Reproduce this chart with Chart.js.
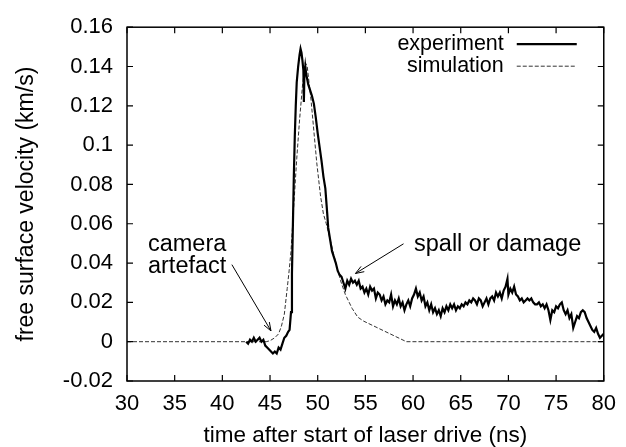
<!DOCTYPE html>
<html>
<head>
<meta charset="utf-8">
<script src="https://cdn.jsdelivr.net/npm/chart.js@4"></script>
<style>
  html, body { margin: 0; padding: 0; background: #fff; }
</style>
</head>
<body>
<canvas id="chartVitesse" width="626" height="447"></canvas>
<script>
// experiment (ns, km/s)
const tempsExp = [
  42.5, 42.7, 42.9, 43.1, 43.3, 43.5, 43.7, 43.9, 44.1, 44.3, 44.5, 44.7, 44.9, 45.1, 45.3, 45.5, 45.7, 45.9,
  46.1, 46.3, 46.5, 46.7, 46.9, 47.05, 47.2, 47.3, 47.4, 47.5, 47.6, 47.7, 47.8, 47.95, 48.1, 48.2, 48.3, 48.4,
  48.5, 48.55, 48.6, 48.7, 48.8, 49.0, 49.2, 49.4, 49.6, 49.8, 50.0, 50.2, 50.4, 50.6, 50.8, 51.0, 51.1, 51.3,
  51.5, 51.7, 51.9, 52.1, 52.3, 52.5, 52.7, 52.9, 53.1, 53.3, 53.5, 53.7, 53.9, 54.1, 54.3, 54.5, 54.7, 54.9,
  55.1, 55.3, 55.5, 55.7, 55.9, 56.1, 56.3, 56.5, 56.7, 56.9, 57.1, 57.3, 57.5, 57.7, 57.9, 58.1, 58.3, 58.5,
  58.7, 58.9, 59.1, 59.3, 59.5, 59.7, 59.9, 60.1, 60.3, 60.5, 60.7, 60.9, 61.1, 61.3, 61.5, 61.7, 61.9, 62.1,
  62.3, 62.5, 62.7, 62.9, 63.1, 63.3, 63.5, 63.7, 63.9, 64.1, 64.3, 64.5, 64.7, 64.9, 65.1, 65.3, 65.5, 65.7,
  65.9, 66.1, 66.3, 66.5, 66.7, 66.9, 67.1, 67.3, 67.5, 67.7, 67.9, 68.1, 68.3, 68.5, 68.7, 68.9, 69.1, 69.3,
  69.5, 69.7, 69.9, 70.0, 70.2, 70.4, 70.6, 70.8, 71.0, 71.2, 71.4, 71.6, 71.8, 72.0, 72.2, 72.4, 72.6, 72.8,
  73.0, 73.2, 73.4, 73.6, 73.8, 74.0, 74.2, 74.4, 74.6, 74.8, 75.0, 75.2, 75.4, 75.6, 75.8, 76.0, 76.2, 76.4,
  76.6, 76.8, 77.0, 77.2, 77.4, 77.6, 77.8, 78.0, 78.2, 78.4, 78.6, 78.8, 79.0, 79.2, 79.4, 79.6, 79.8, 80.0
];
const vitesseExp = [
  0.000, -0.001, 0.001, 0.000, 0.002, 0.000, 0.001, 0.002, 0.000, 0.001, -0.002, -0.003, -0.004, -0.005, -0.006, -0.005, -0.006, -0.003,
  -0.004, -0.001, 0.002, 0.003, 0.005, 0.006, 0.015, 0.035, 0.060, 0.085, 0.105, 0.120, 0.132, 0.140, 0.146, 0.149, 0.147, 0.143,
  0.138, 0.122, 0.135, 0.140, 0.136, 0.131, 0.128, 0.125, 0.121, 0.114, 0.106, 0.099, 0.092, 0.084, 0.078, 0.065, 0.058, 0.052,
  0.046, 0.043, 0.040, 0.036, 0.034, 0.033, 0.030, 0.027, 0.031, 0.029, 0.032, 0.030, 0.031, 0.029, 0.031, 0.027, 0.028, 0.025,
  0.027, 0.024, 0.028, 0.026, 0.027, 0.022, 0.025, 0.024, 0.021, 0.023, 0.019, 0.021, 0.020, 0.024, 0.018, 0.021, 0.019, 0.022,
  0.018, 0.020, 0.016, 0.019, 0.021, 0.018, 0.022, 0.024, 0.027, 0.023, 0.025, 0.021, 0.023, 0.018, 0.020, 0.016, 0.019, 0.015,
  0.017, 0.014, 0.016, 0.013, 0.017, 0.015, 0.018, 0.016, 0.019, 0.017, 0.019, 0.016, 0.018, 0.017, 0.019, 0.018, 0.020, 0.019,
  0.021, 0.020, 0.022, 0.021, 0.019, 0.022, 0.021, 0.018, 0.020, 0.022, 0.019, 0.022, 0.023, 0.021, 0.025, 0.023, 0.025, 0.022,
  0.026, 0.028, 0.032, 0.024, 0.027, 0.025, 0.028, 0.024, 0.023, 0.021, 0.022, 0.020, 0.021, 0.022, 0.021, 0.022, 0.020, 0.019,
  0.019, 0.020, 0.018, 0.019, 0.017, 0.019, 0.016, 0.011, 0.016, 0.015, 0.018, 0.017, 0.019, 0.020, 0.016, 0.014, 0.016, 0.012,
  0.014, 0.007, 0.010, 0.013, 0.012, 0.015, 0.016, 0.015, 0.012, 0.010, 0.008, 0.006, 0.005, 0.007, 0.004, 0.002, 0.003, 0.004
];

// simulation
const tempsSim = [30, 44.6, 45.0, 45.5, 45.9, 46.2, 46.5, 46.8, 47.0, 47.2, 47.5, 47.8, 48.1, 48.4, 48.7, 48.9, 49.3, 49.6,
  49.9, 50.3, 50.6, 50.9, 51.2, 51.6, 51.9, 52.4, 52.9, 53.6, 54.2, 54.8, 59.3, 80];
const vitesseSim = [0, 0, 0.0005, 0.002, 0.004, 0.008, 0.014, 0.027, 0.036, 0.046, 0.070, 0.093, 0.113, 0.130, 0.142, 0.140, 0.123, 0.107,
  0.091, 0.074, 0.065, 0.060, 0.054, 0.046, 0.040, 0.031, 0.024, 0.017, 0.0125, 0.0105, 0, 0];

const ticksX = [30, 35, 40, 45, 50, 55, 60, 65, 70, 75, 80];
const ticksY = [-0.02, 0, 0.02, 0.04, 0.06, 0.08, 0.1, 0.12, 0.14, 0.16];

const famille = "'Liberation Sans', Arial, sans-serif";
Chart.defaults.font.family = famille;
Chart.defaults.color = "#000";

// annotations, placed in data coordinates
const notes = [
  { lignes: ["camera", "artefact"], x: 32.2, y: 0.0493, fleche: [41.0, 0.0392, 45.1, 0.0055] },
  { lignes: ["spall or damage"], x: 60.1, y: 0.0493, fleche: [59.0, 0.0498, 53.96, 0.0347] }
];

function dessinerFleche(ctx, x1, y1, x2, y2) {
  const angle = Math.atan2(y2 - y1, x2 - x1);
  ctx.beginPath();
  ctx.moveTo(x1, y1);
  ctx.lineTo(x2, y2);
  ctx.moveTo(x2 - 9 * Math.cos(angle - 0.35), y2 - 9 * Math.sin(angle - 0.35));
  ctx.lineTo(x2, y2);
  ctx.lineTo(x2 - 9 * Math.cos(angle + 0.35), y2 - 9 * Math.sin(angle + 0.35));
  ctx.stroke();
}

const cadre = {
  id: "cadre",
  afterDraw(chart) {
    const { ctx, chartArea: a, scales: { x, y } } = chart;
    ctx.save();
    ctx.strokeStyle = "#000";
    ctx.lineWidth = 1.5;
    ctx.strokeRect(a.left, a.top, a.right - a.left, a.bottom - a.top);
    ctx.lineWidth = 1.2;
    ctx.beginPath();
    x.ticks.forEach(t => {
      const px = x.getPixelForValue(t.value);
      ctx.moveTo(px, a.bottom); ctx.lineTo(px, a.bottom - 6);
      ctx.moveTo(px, a.top); ctx.lineTo(px, a.top + 6);
    });
    y.ticks.forEach(t => {
      const py = y.getPixelForValue(t.value);
      ctx.moveTo(a.left, py); ctx.lineTo(a.left + 6, py);
      ctx.moveTo(a.right, py); ctx.lineTo(a.right - 6, py);
    });
    ctx.stroke();

    // legend, gnuplot style
    ctx.font = "21.5px " + famille;
    ctx.textAlign = "right";
    ctx.textBaseline = "middle";
    chart.data.datasets.forEach((ds, i) => {
      const ly = a.top + 17 + i * 22;
      ctx.fillStyle = "#000";
      ctx.fillText(ds.label, a.right - 100, ly);
      ctx.strokeStyle = ds.borderColor;
      ctx.lineWidth = ds.borderWidth;
      ctx.setLineDash(ds.borderDash || []);
      ctx.beginPath();
      ctx.moveTo(a.right - 87, ly);
      ctx.lineTo(a.right - 27, ly);
      ctx.stroke();
    });
    ctx.setLineDash([]);

    // notes + arrows
    ctx.font = "23.5px " + famille;
    ctx.textAlign = "left";
    ctx.strokeStyle = "#000";
    ctx.lineWidth = 1;
    notes.forEach(n => {
      n.lignes.forEach((txt, k) => {
        ctx.fillText(txt, x.getPixelForValue(n.x), y.getPixelForValue(n.y) + k * 22);
      });
      const [x1, y1, x2, y2] = n.fleche;
      dessinerFleche(ctx, x.getPixelForValue(x1), y.getPixelForValue(y1), x.getPixelForValue(x2), y.getPixelForValue(y2));
    });
    ctx.restore();
  }
};

new Chart(document.getElementById("chartVitesse"), {
  type: "line",
  data: {
    datasets: [{
      label: "experiment",
      data: tempsExp.map((t, i) => ({ x: t, y: vitesseExp[i] })),
      borderColor: "#000",
      borderWidth: 2.2,
      pointRadius: 0,
      tension: 0
    }, {
      label: "simulation",
      data: tempsSim.map((t, i) => ({ x: t, y: vitesseSim[i] })),
      borderColor: "#333",
      borderWidth: 1,
      borderDash: [4, 2],
      pointRadius: 0,
      tension: 0
    }]
  },
  options: {
    responsive: false,
    animation: false,
    devicePixelRatio: 1,
    layout: { padding: { top: 23, right: 19, left: 0, bottom: 0 } },
    plugins: { legend: { display: false }, tooltip: { enabled: false } },
    scales: {
      x: {
        type: "linear",
        min: 30,
        max: 80,
        afterBuildTicks: axe => { axe.ticks = ticksX.map(v => ({ value: v })); },
        afterFit: axe => { axe.height = 66; },
        grid: { display: false, drawTicks: false },
        border: { display: false },
        ticks: { font: { size: 22 }, padding: 10, maxRotation: 0, autoSkip: false },
        title: { display: true, text: "time after start of laser drive (ns)", font: { size: 22.5, lineHeight: 1 }, padding: 0 }
      },
      y: {
        type: "linear",
        min: -0.02,
        max: 0.16,
        afterBuildTicks: axe => { axe.ticks = ticksY.map(v => ({ value: v })); },
        afterFit: axe => { axe.width = 127; },
        grid: { display: false, drawTicks: false },
        border: { display: false },
        ticks: { font: { size: 22 }, padding: 14, autoSkip: false, callback: v => String(+v.toFixed(2)) },
        title: { display: true, text: "free surface velocity (km/s)", font: { size: 23, lineHeight: 1 }, padding: { top: 15, bottom: 0 } }
      }
    }
  },
  plugins: [cadre]
});
</script>
</body>
</html>
